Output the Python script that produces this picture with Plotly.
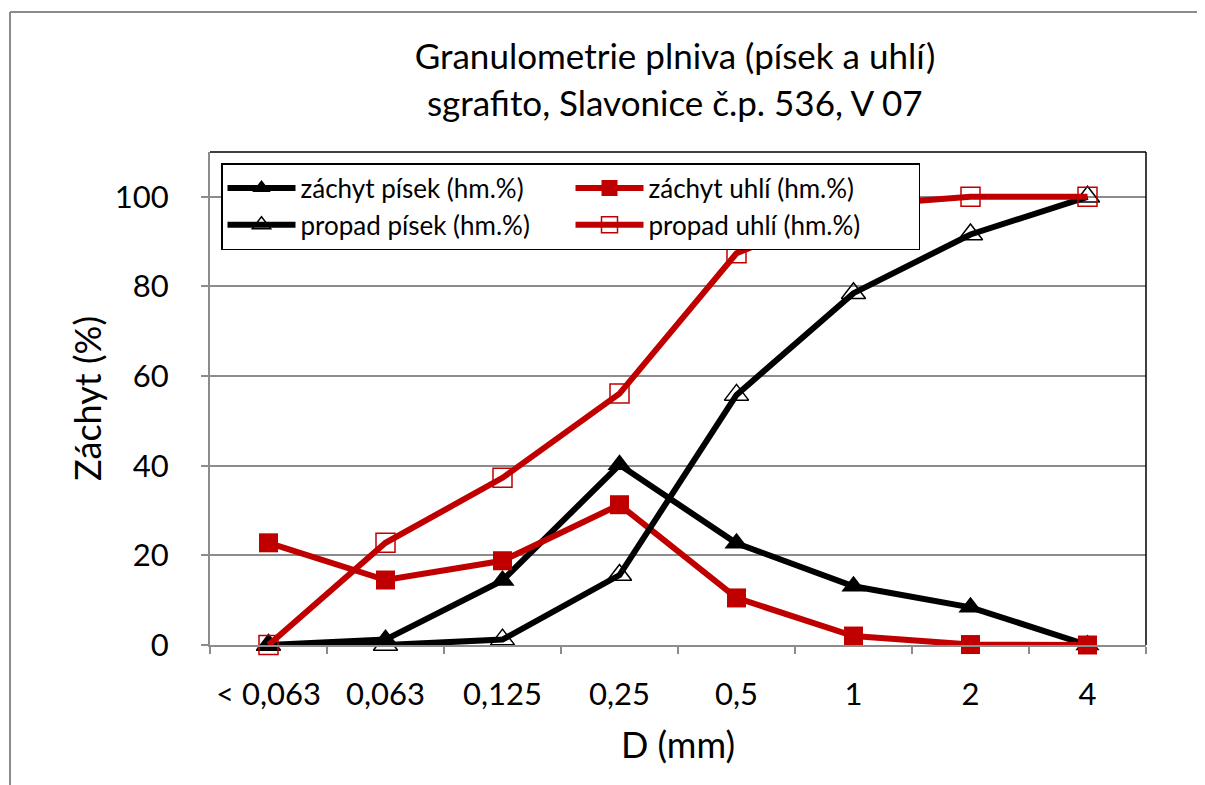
import plotly.graph_objects as go

categories = ["< 0,063", "0,063", "0,125", "0,25", "0,5", "1", "2", "4"]
zachyt_pisek = [0, 1.2, 14.4, 40.2, 22.7, 13.1, 8.4, 0]
zachyt_uhli = [22.8, 14.5, 18.8, 31.3, 10.5, 2.0, 0.1, 0]
propad_pisek = [0, 0, 1.2, 15.6, 55.8, 78.5, 91.6, 100]
propad_uhli = [0, 22.8, 37.3, 56.1, 87.4, 98.0, 100, 100]

RED = "#C00000"
FONT = "Lato"

fig = go.Figure()
fig.add_trace(go.Scatter(x=categories, y=zachyt_pisek, name="záchyt písek (hm.%)",
                         mode="lines+markers", line=dict(color="black", width=6),
                         marker=dict(symbol="triangle-up", size=21, color="black"),
                         cliponaxis=False))
fig.add_trace(go.Scatter(x=categories, y=zachyt_uhli, name="záchyt uhlí (hm.%)",
                         mode="lines+markers", line=dict(color=RED, width=6),
                         marker=dict(symbol="square", size=19, color=RED),
                         cliponaxis=False))
fig.add_trace(go.Scatter(x=categories, y=propad_pisek, name="propad písek (hm.%)",
                         mode="lines+markers", line=dict(color="black", width=6),
                         marker=dict(symbol="triangle-up-open", size=21, color="black",
                                     line=dict(width=1.5, color="black")),
                         cliponaxis=False))
fig.add_trace(go.Scatter(x=categories, y=propad_uhli, name="propad uhlí (hm.%)",
                         mode="lines+markers", line=dict(color=RED, width=6),
                         marker=dict(symbol="square-open", size=19, color=RED,
                                     line=dict(width=1.5, color=RED)),
                         cliponaxis=False))

# page body has an 8px margin; work in reference coords minus offset
OFF = 8
W, H = 1205 - OFF, 785 - OFF
L, R, T, B = 210 - OFF, 1146 - OFF, 152 - OFF, 645 - OFF
pw, ph = R - L, B - T

def px(x):
    return (x - OFF - L) / pw

def py(y):
    return (B - (y - OFF)) / ph

fig.update_layout(
    width=W, height=H,
    margin=dict(l=L, r=W - R, t=T, b=H - B),
    paper_bgcolor="white", plot_bgcolor="white",
    font=dict(family=FONT, color="black", size=28),
    showlegend=True,
    title=dict(text="Granulometrie plniva (písek a uhlí)", x=px(675), xanchor="center", xref="paper",
               y=1 - (57 - OFF) / H, yanchor="middle", yref="container",
               font=dict(family=FONT, size=35, color="black")),
    legend=dict(orientation="h", x=px(221), y=py(163), xanchor="left", yanchor="top",
                bgcolor="white", bordercolor="black", borderwidth=1.5,
                font=dict(family=FONT, size=26, color="black"),
                entrywidth=265, itemwidth=68, tracegroupgap=0),
    xaxis=dict(type="category", range=[-0.5, 7.5], showgrid=False,
               showline=True, linecolor="#8c8c8c", linewidth=2,
               ticks="outside", tickson="boundaries", ticklen=7, tickcolor="#8c8c8c", tickwidth=2,
               tickfont=dict(family=FONT, size=31), ticklabelstandoff=21,
               title=dict(text="D (mm)", font=dict(family=FONT, size=36), standoff=22),
               fixedrange=True),
    yaxis=dict(range=[0, 110], dtick=20, tick0=0, showgrid=True, gridcolor="#8c8c8c", gridwidth=1.5,
               showline=True, linecolor="#8c8c8c", linewidth=2,
               ticks="outside", ticklen=7, tickcolor="#8c8c8c", tickwidth=2,
               tickfont=dict(family=FONT, size=31), ticklabelstandoff=26,
               title=dict(text="Záchyt (%)", font=dict(family=FONT, size=36), standoff=2),
               zeroline=False, fixedrange=True),
    annotations=[dict(text="sgrafito, Slavonice č.p. 536, V 07", xref="paper", yref="paper",
                      x=px(675), y=py(102), xanchor="center", yanchor="middle", showarrow=False,
                      font=dict(family=FONT, size=35, color="black"))],
    shapes=[
        dict(type="line", xref="paper", yref="paper", x0=0, x1=1, y0=1, y1=1,
             line=dict(color="black", width=1.5)),
        dict(type="line", xref="paper", yref="paper", x0=1, x1=1, y0=0, y1=1,
             line=dict(color="black", width=1.5)),
        dict(type="line", xref="paper", yref="paper", x0=px(10), x1=px(1215), y0=py(12), y1=py(12),
             line=dict(color="#8c8c8c", width=2)),
        dict(type="line", xref="paper", yref="paper", x0=px(10), x1=px(10), y0=py(12), y1=py(800),
             line=dict(color="#8c8c8c", width=2)),
    ],
)

fig.write_html("out.html")
